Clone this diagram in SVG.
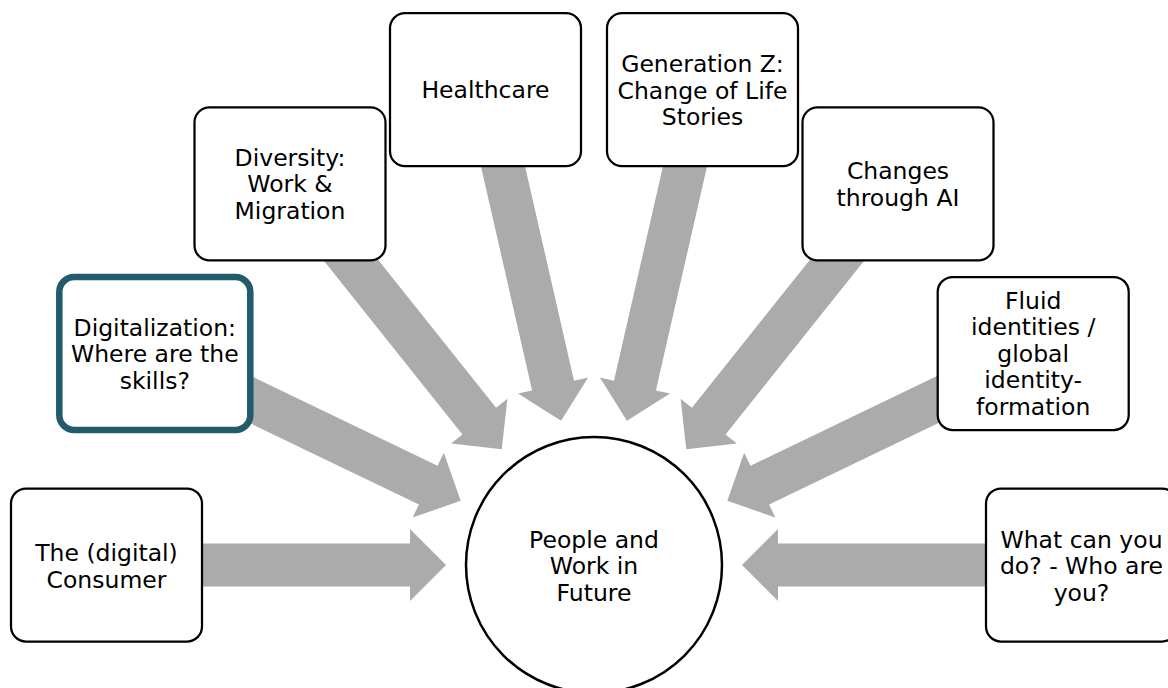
<svg xmlns="http://www.w3.org/2000/svg" width="1168" height="688" viewBox="0 0 1168 688">
  <defs>
    <style>
      .arrow { fill: #ababab; stroke: none; }
      .box { fill: #ffffff; stroke: #000000; stroke-width: 2.25; }
      .box-hl { fill: #ffffff; stroke: #225b69; stroke-width: 6.5; }
      .hub { fill: #ffffff; stroke: #000000; stroke-width: 2.5; }
      .lbl { font-family: "DejaVu Sans", Verdana, sans-serif; font-size: 23.5px; fill: #000000; text-anchor: middle; }
    </style>
    <!-- block arrow pointing +x, tip at origin -->
    <polygon id="blk" points="0,0 -36,-36 -36,-21.5 -340,-21.5 -340,21.5 -36,21.5 -36,36"/>
  </defs>

  <rect width="1168" height="688" fill="#ffffff"/>

  <g id="connectors">
    <use href="#blk" class="arrow" transform="translate(446,565) rotate(0)"/>
    <use href="#blk" class="arrow" transform="translate(460.66,500.79) rotate(25.714)"/>
    <use href="#blk" class="arrow" transform="translate(501.72,449.29) rotate(51.429)"/>
    <use href="#blk" class="arrow" transform="translate(561.07,420.71) rotate(77.143)"/>
    <use href="#blk" class="arrow" transform="translate(626.93,420.71) rotate(102.857)"/>
    <use href="#blk" class="arrow" transform="translate(686.28,449.29) rotate(128.571)"/>
    <use href="#blk" class="arrow" transform="translate(727.34,500.79) rotate(154.286)"/>
    <use href="#blk" class="arrow" transform="translate(742,565) rotate(180)"/>
  </g>

  <g id="hub">
    <circle class="hub" cx="594" cy="565" r="128"/>
    <text class="lbl" x="594" y="547.5">People and</text>
    <text class="lbl" x="594" y="574">Work in</text>
    <text class="lbl" x="594" y="600.5">Future</text>
  </g>

  <g id="node-consumer">
    <rect class="box" x="11" y="488.5" width="191" height="153" rx="15"/>
    <text class="lbl" x="106.5" y="561">The (digital)</text>
    <text class="lbl" x="106.5" y="587.5">Consumer</text>
  </g>

  <g id="node-digitalization">
    <rect class="box-hl" x="59.3" y="277" width="191" height="153" rx="15"/>
    <text class="lbl" x="154.8" y="335.5">Digitalization:</text>
    <text class="lbl" x="154.8" y="362">Where are the</text>
    <text class="lbl" x="154.8" y="388.5">skills?</text>
  </g>

  <g id="node-diversity">
    <rect class="box" x="194.5" y="107.4" width="191" height="153" rx="15"/>
    <text class="lbl" x="290" y="165.5">Diversity:</text>
    <text class="lbl" x="290" y="192">Work &amp;</text>
    <text class="lbl" x="290" y="218.5">Migration</text>
  </g>

  <g id="node-healthcare">
    <rect class="box" x="390" y="13.2" width="191" height="153" rx="15"/>
    <text class="lbl" x="485.5" y="97.5">Healthcare</text>
  </g>

  <g id="node-genz">
    <rect class="box" x="607" y="13.2" width="191" height="153" rx="15"/>
    <text class="lbl" x="702.5" y="72">Generation Z:</text>
    <text class="lbl" x="702.5" y="98.5">Change of Life</text>
    <text class="lbl" x="702.5" y="125">Stories</text>
  </g>

  <g id="node-ai">
    <rect class="box" x="802.5" y="107.4" width="191" height="153" rx="15"/>
    <text class="lbl" x="898" y="179">Changes</text>
    <text class="lbl" x="898" y="205.5">through AI</text>
  </g>

  <g id="node-identities">
    <rect class="box" x="937.7" y="277" width="191" height="153" rx="15"/>
    <text class="lbl" x="1033.2" y="308.5">Fluid</text>
    <text class="lbl" x="1033.2" y="335">identities /</text>
    <text class="lbl" x="1033.2" y="361.5">global</text>
    <text class="lbl" x="1033.2" y="388">identity-</text>
    <text class="lbl" x="1033.2" y="414.5">formation</text>
  </g>

  <g id="node-who">
    <rect class="box" x="986" y="488.5" width="191" height="153" rx="15"/>
    <text class="lbl" x="1081.5" y="547.5">What can you</text>
    <text class="lbl" x="1081.5" y="574">do? - Who are</text>
    <text class="lbl" x="1081.5" y="600.5">you?</text>
  </g>
</svg>
